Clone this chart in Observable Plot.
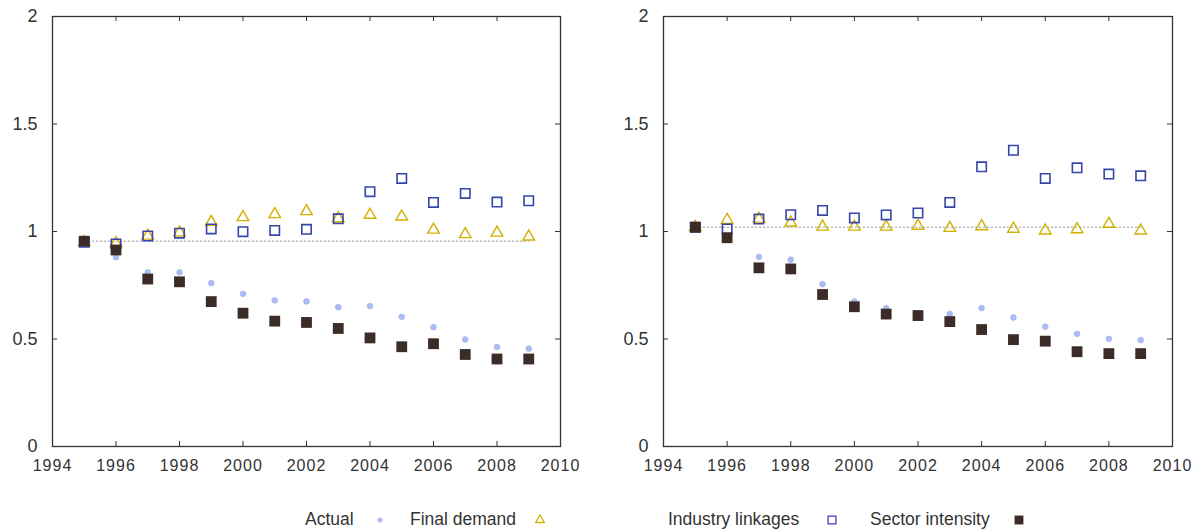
<!DOCTYPE html>
<html>
<head>
<meta charset="utf-8">
<script src="https://cdn.jsdelivr.net/npm/d3@7"></script>
<script src="https://cdn.jsdelivr.net/npm/@observablehq/plot@0.6"></script>
<style>
  body { margin: 0; background: #fff; font-family: "Liberation Sans", Arial, sans-serif; color: #333; }
  #figure { position: relative; width: 1196px; height: 531px; }
  #charts { display: flex; width: 1196px; }
  #charts svg { display: block; }
  g[aria-label="x-axis tick label"] text { letter-spacing: 1px; }
  #legend { position: absolute; left: 0; top: 490px; width: 1196px; height: 41px; }
  .lg-text { position: absolute; font-size: 17.5px; line-height: 20px; top: 19px; white-space: nowrap; color: #333; }
  .lg-mark { position: absolute; top: 21px; }
</style>
</head>
<body>
<div id="figure">
  <div id="charts"></div>
  <div id="legend"></div>
</div>
<script>
// Years covered by both panels
const years = [1995, 1996, 1997, 1998, 1999, 2000, 2001, 2002, 2003, 2004, 2005, 2006, 2007, 2008, 2009];

// Axis ticks
const xTicks = [1994, 1996, 1998, 2000, 2002, 2004, 2006, 2008, 2010];
const yTicks = [0, 0.5, 1, 1.5, 2];

// Series names (legend order)
const seriesNames = ["Actual", "Final demand", "Industry linkages", "Sector intensity"];

// Left panel
const leftActual            = [0.95, 0.88, 0.81, 0.81, 0.76, 0.71, 0.68, 0.675, 0.648, 0.653, 0.603, 0.555, 0.498, 0.463, 0.455];
const leftFinalDemand       = [0.95, 0.945, 0.98, 0.995, 1.044, 1.066, 1.08, 1.094, 1.061, 1.077, 1.069, 1.008, 0.987, 0.994, 0.976];
const leftIndustryLinkages  = [0.95, 0.942, 0.979, 0.992, 1.012, 0.999, 1.005, 1.01, 1.059, 1.185, 1.247, 1.135, 1.177, 1.137, 1.143];
const leftSectorIntensity   = [0.955, 0.914, 0.779, 0.766, 0.674, 0.62, 0.583, 0.577, 0.549, 0.505, 0.464, 0.478, 0.428, 0.407, 0.407];

// Right panel
const rightActual           = [1.02, 0.975, 0.882, 0.869, 0.755, 0.675, 0.643, 0.62, 0.617, 0.644, 0.6, 0.558, 0.524, 0.501, 0.495];
const rightFinalDemand      = [1.02, 1.053, 1.059, 1.041, 1.022, 1.022, 1.022, 1.026, 1.016, 1.024, 1.012, 1.004, 1.01, 1.035, 1.004];
const rightIndustryLinkages = [1.02, 1.012, 1.058, 1.078, 1.098, 1.063, 1.077, 1.086, 1.135, 1.301, 1.378, 1.247, 1.296, 1.267, 1.259];
const rightSectorIntensity  = [1.02, 0.971, 0.831, 0.826, 0.707, 0.65, 0.616, 0.609, 0.581, 0.544, 0.497, 0.49, 0.441, 0.432, 0.432];

// Mark styles per series
const styles = {
  "Actual":            {symbol: "circle",   r: 2.9, fill: "#a9bcf5", stroke: "#9fb1ea", strokeWidth: 0.6},
  "Final demand":      {symbol: "triangle", r: 4.3, fill: "none", stroke: "#d3b000", strokeWidth: 1.4},
  "Industry linkages": {symbol: "square",   r: 5.3, fill: "none", stroke: "#3645aa", strokeWidth: 1.6},
  "Sector intensity":  {symbol: "square",   r: 6.1, fill: "#3b2c28", stroke: "none"}
};

const rows = (vals) => years.map((year, i) => ({year, value: vals[i]}));
const fmt = d => String(d);

const HEIGHT = 490, MT = 16, MB = 44, TICK = 5;

function panel(series, {width, marginLeft, marginRight}) {
  const base = series["Sector intensity"][0];
  const baseline = [{year: years[0], value: base}, {year: years[years.length - 1], value: base}];
  const innerW = width - marginLeft - marginRight;
  const innerH = HEIGHT - MT - MB;
  const tickLine = {stroke: "#333", strokeWidth: 1};
  return Plot.plot({
    width,
    height: HEIGHT,
    marginTop: MT,
    marginBottom: MB,
    marginLeft,
    marginRight,
    style: {fontFamily: '"Liberation Sans", Arial, sans-serif', fontSize: "16px", color: "#333", background: "#fff", overflow: "visible"},
    x: {domain: [1994, 2010]},
    y: {domain: [0, 2]},
    marks: [
      // base-year reference line
      Plot.lineY(baseline, {x: "year", y: "value", stroke: "#9a9a9a", strokeWidth: 1, strokeDasharray: "1.5 2.5"}),
      ...seriesNames.map(name =>
        Plot.dot(rows(series[name]), {x: "year", y: "value", ...styles[name]})
      ),
      Plot.frame({stroke: "#333", strokeWidth: 1.3}),
      // short ticks pointing into the frame on every side
      Plot.tickX(xTicks, {x: d => d, insetTop: innerH - TICK, ...tickLine}),
      Plot.tickX(xTicks, {x: d => d, insetBottom: innerH - TICK, ...tickLine}),
      Plot.tickY(yTicks, {y: d => d, insetRight: innerW - TICK, ...tickLine}),
      Plot.tickY(yTicks, {y: d => d, insetLeft: innerW - TICK, ...tickLine}),
      // tick labels
      Plot.axisX({anchor: "bottom", ticks: xTicks, tickFormat: fmt, tickSize: 0, tickPadding: 13, label: null, fontSize: 16}),
      Plot.axisY({anchor: "left", ticks: yTicks, tickFormat: fmt, tickSize: 0, tickPadding: 15, label: null, fontSize: 18})
    ]
  });
}

const charts = document.getElementById("charts");
charts.append(
  panel({
    "Actual": leftActual,
    "Final demand": leftFinalDemand,
    "Industry linkages": leftIndustryLinkages,
    "Sector intensity": leftSectorIntensity
  }, {width: 600, marginLeft: 52, marginRight: 40}),
  panel({
    "Actual": rightActual,
    "Final demand": rightFinalDemand,
    "Industry linkages": rightIndustryLinkages,
    "Sector intensity": rightSectorIntensity
  }, {width: 596, marginLeft: 63, marginRight: 24})
);

// Legend: label followed by its marker
const legendLayout = [
  {text: 305, mark: 380},
  {text: 410, mark: 540},
  {text: 668, mark: 832},
  {text: 870, mark: 1019}
];
const legendSizes = {"Actual": 2.5, "Final demand": 3.2, "Industry linkages": 4.4, "Sector intensity": 5};
const legend = d3.select("#legend");
seriesNames.forEach((name, i) => {
  const pos = legendLayout[i];
  legend.append("span").attr("class", "lg-text").style("left", pos.text + "px").text(name);
  const st = styles[name];
  const size = 18;
  const svg = legend.append("svg").attr("class", "lg-mark")
    .attr("width", size).attr("height", size)
    .style("left", (pos.mark - size / 2) + "px");
  const symType = {circle: d3.symbolCircle, triangle: d3.symbolTriangle, square: d3.symbolSquare}[st.symbol];
  const r = legendSizes[name];
  svg.append("path")
    .attr("transform", `translate(${size / 2},${size / 2})`)
    .attr("d", d3.symbol(symType, Math.PI * r * r)())
    .attr("fill", st.fill)
    .attr("stroke", st.stroke)
    .attr("stroke-width", name === "Actual" ? 0 : Math.min(st.strokeWidth || 0, 1.3));
});
</script>
</body>
</html>
